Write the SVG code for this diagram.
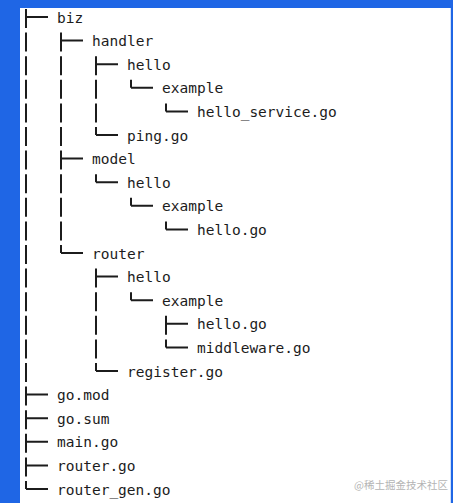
<svg xmlns="http://www.w3.org/2000/svg" width="453" height="503" viewBox="0 0 453 503">
<style>
.t{font-family:"DejaVu Sans Mono","Liberation Mono",monospace;font-size:14.5px;fill:#1c1c1c}
.v{stroke:#1c1c1c;stroke-width:2;fill:none;stroke-dasharray:19 4.6}
.h{stroke:#1c1c1c;stroke-width:2;fill:none}
.wm{font-family:"Noto Sans CJK SC","Liberation Sans",sans-serif;font-size:10.5px;fill:#b4b4b4}
</style>
<rect x="0" y="0" width="453" height="503" fill="#1f66e5"/>
<rect x="20" y="8" width="430" height="495" fill="#ffffff"/>
<line x1="450.5" y1="8" x2="450.5" y2="503" stroke="#cfe0fb" stroke-width="1"/>
<g id="connectors">
<path class="v" d="M26 9V489"/>
<path class="v" d="M61 32.6V253"/>
<path class="v" d="M96 56.2V135"/>
<path class="v" d="M96 174.2V182.2"/>
<path class="v" d="M96 268.6V371"/>
<path class="v" d="M131 79.8V87.8"/>
<path class="v" d="M131 197.8V205.8"/>
<path class="v" d="M131 292.2V300.2"/>
<path class="v" d="M166 103.4V111.4"/>
<path class="v" d="M166 221.4V229.4"/>
<path class="v" d="M166 315.8V347.4"/>
<path class="h" d="M26 17h22M61 40.6h22M96 64.2h22M131 87.8h22M166 111.4h22M96 135h22M61 158.6h22M96 182.2h22M131 205.8h22M166 229.4h22M61 253h22M96 276.6h22M131 300.2h22M166 323.8h22M166 347.4h22M96 371h22M26 394.6h22M26 418.2h22M26 441.8h22M26 465.4h22M26 489h22"/>
</g>
<g id="biz"><text class="t" x="57" y="22.5">biz</text></g>
<g id="handler"><text class="t" x="92" y="46.1">handler</text></g>
<g id="handler-hello"><text class="t" x="127" y="69.7">hello</text></g>
<g id="handler-example"><text class="t" x="162" y="93.3">example</text></g>
<g id="hello_service"><text class="t" x="197" y="116.9">hello_service.go</text></g>
<g id="ping"><text class="t" x="127" y="140.5">ping.go</text></g>
<g id="model"><text class="t" x="92" y="164.1">model</text></g>
<g id="model-hello"><text class="t" x="127" y="187.7">hello</text></g>
<g id="model-example"><text class="t" x="162" y="211.3">example</text></g>
<g id="model-hello-go"><text class="t" x="197" y="234.9">hello.go</text></g>
<g id="router"><text class="t" x="92" y="258.5">router</text></g>
<g id="router-hello"><text class="t" x="127" y="282.1">hello</text></g>
<g id="router-example"><text class="t" x="162" y="305.7">example</text></g>
<g id="router-hello-go"><text class="t" x="197" y="329.3">hello.go</text></g>
<g id="middleware"><text class="t" x="197" y="352.9">middleware.go</text></g>
<g id="register"><text class="t" x="127" y="376.5">register.go</text></g>
<g id="gomod"><text class="t" x="57" y="400.1">go.mod</text></g>
<g id="gosum"><text class="t" x="57" y="423.7">go.sum</text></g>
<g id="main"><text class="t" x="57" y="447.3">main.go</text></g>
<g id="routergo"><text class="t" x="57" y="470.9">router.go</text></g>
<g id="router_gen"><text class="t" x="57" y="494.5">router_gen.go</text></g>
<text class="wm" x="354" y="489">@稀土掘金技术社区</text>
</svg>
